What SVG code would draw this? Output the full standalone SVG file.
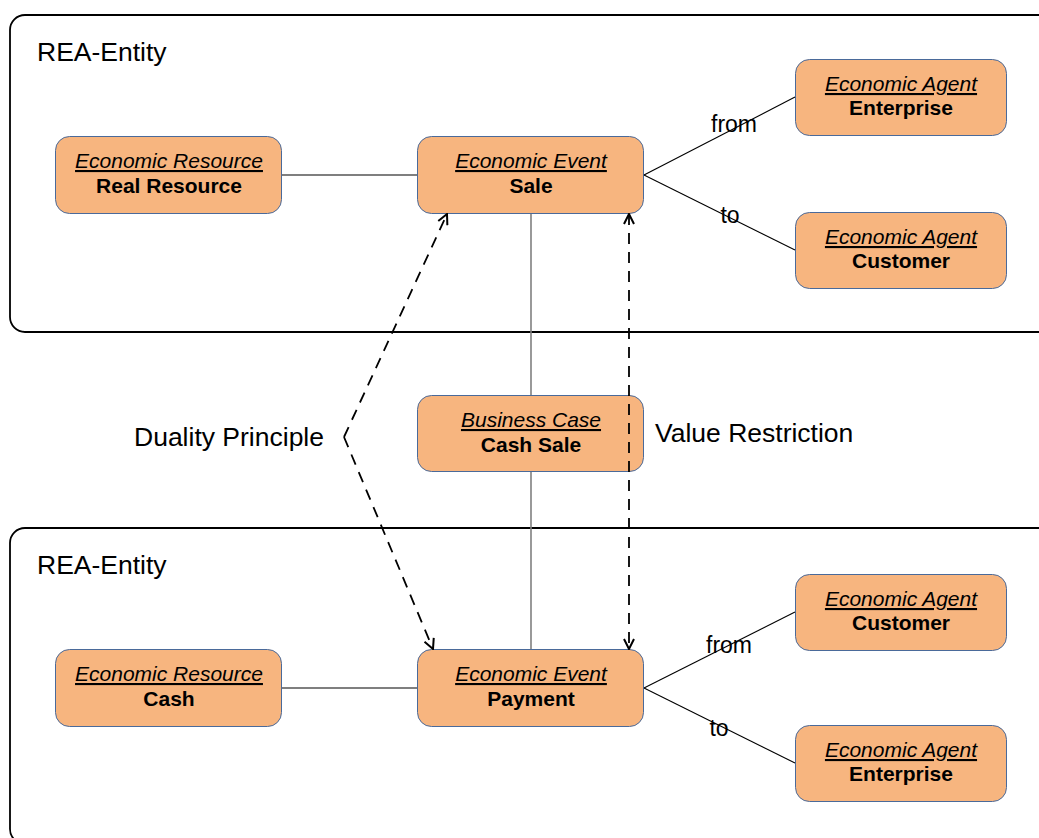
<svg xmlns="http://www.w3.org/2000/svg" width="1039" height="838" viewBox="0 0 1039 838">
  <defs>
    <marker id="open-arrow" viewBox="0 0 12 12" refX="11" refY="6" markerWidth="12" markerHeight="12" markerUnits="userSpaceOnUse" orient="auto-start-reverse">
      <path d="M1,1 L11,6 L1,11" fill="none" stroke="#000" stroke-width="2"/>
    </marker>
  </defs>
  <style>
    text { font-family: "Liberation Sans", Arial, sans-serif; fill: #000; }
    .container { fill: #fff; stroke: #000; stroke-width: 1.8; }
    .container-title { font-size: 26.5px; }
    .node rect { fill: #F7B57F; stroke: #4A6A9A; stroke-width: 1; }
    .kind { font-size: 21px; font-style: italic; text-decoration: underline; text-anchor: middle; }
    .name { font-size: 21px; font-weight: bold; text-anchor: middle; }
    .link { stroke: #000; stroke-width: 1.1; fill: none; }
    .spine { stroke: #808080; stroke-width: 1.6; fill: none; }
    .dashed { stroke: #000; stroke-width: 1.8; fill: none; stroke-dasharray: 11 8; }
    .edge-label { font-size: 23px; text-anchor: middle; }
    .note { font-size: 26.5px; }
  </style>

  <!-- REA entity containers -->
  <g id="rea-entity-top">
    <rect class="container" x="10" y="15" width="1060" height="317" rx="15" ry="15"/>
    <text class="container-title" x="37" y="61">REA-Entity</text>
  </g>
  <g id="rea-entity-bottom">
    <rect class="container" x="10" y="528" width="1060" height="316" rx="15" ry="15"/>
    <text class="container-title" x="37" y="574">REA-Entity</text>
  </g>

  <!-- Nodes -->
  <g id="resource-real" class="node">
    <rect x="55.500" y="136.500" width="226" height="77" rx="14" ry="14"/>
    <text class="kind" x="169" y="168">Economic Resource</text>
    <text class="name" x="169" y="193">Real Resource</text>
  </g>
  <g id="event-sale" class="node">
    <rect x="417.500" y="136.500" width="226" height="77" rx="14" ry="14"/>
    <text class="kind" x="531" y="168">Economic Event</text>
    <text class="name" x="531" y="193">Sale</text>
  </g>
  <g id="agent-enterprise-top" class="node">
    <rect x="795.500" y="59.500" width="211" height="76" rx="14" ry="14"/>
    <text class="kind" x="901" y="91">Economic Agent</text>
    <text class="name" x="901" y="115">Enterprise</text>
  </g>
  <g id="agent-customer-top" class="node">
    <rect x="795.500" y="212.500" width="211" height="76" rx="14" ry="14"/>
    <text class="kind" x="901" y="244">Economic Agent</text>
    <text class="name" x="901" y="268">Customer</text>
  </g>
  <g id="business-case" class="node">
    <rect x="417.500" y="395.500" width="226" height="76" rx="14" ry="14"/>
    <text class="kind" x="531" y="427">Business Case</text>
    <text class="name" x="531" y="452">Cash Sale</text>
  </g>
  <g id="resource-cash" class="node">
    <rect x="55.500" y="649.500" width="226" height="77" rx="14" ry="14"/>
    <text class="kind" x="169" y="681">Economic Resource</text>
    <text class="name" x="169" y="706">Cash</text>
  </g>
  <g id="event-payment" class="node">
    <rect x="417.500" y="649.500" width="226" height="77" rx="14" ry="14"/>
    <text class="kind" x="531" y="681">Economic Event</text>
    <text class="name" x="531" y="706">Payment</text>
  </g>
  <g id="agent-customer-bottom" class="node">
    <rect x="795.500" y="574.500" width="211" height="76" rx="14" ry="14"/>
    <text class="kind" x="901" y="606">Economic Agent</text>
    <text class="name" x="901" y="630">Customer</text>
  </g>
  <g id="agent-enterprise-bottom" class="node">
    <rect x="795.500" y="725.500" width="211" height="76" rx="14" ry="14"/>
    <text class="kind" x="901" y="757">Economic Agent</text>
    <text class="name" x="901" y="781">Enterprise</text>
  </g>

  <!-- Connectors -->
  <g id="connectors">
    <line class="link" x1="282" y1="175" x2="417" y2="175"/>
    <line class="link" x1="644" y1="175" x2="795" y2="97"/>
    <line class="link" x1="644" y1="175" x2="795" y2="250"/>
    <line class="spine" x1="531" y1="214" x2="531" y2="395"/>
    <line class="spine" x1="531" y1="472" x2="531" y2="649"/>

    <line class="link" x1="282" y1="688" x2="417" y2="688"/>
    <line class="link" x1="644" y1="688" x2="795" y2="612"/>
    <line class="link" x1="644" y1="688" x2="795" y2="763"/>

    <!-- duality principle -->
    <line class="dashed" x1="344" y1="437" x2="447" y2="214" marker-end="url(#open-arrow)"/>
    <line class="dashed" x1="344" y1="437" x2="433" y2="649" marker-end="url(#open-arrow)"/>
    <!-- value restriction -->
    <line class="dashed" x1="629" y1="214" x2="629" y2="649" marker-start="url(#open-arrow)" marker-end="url(#open-arrow)"/>

    <text class="edge-label" x="734" y="132">from</text>
    <text class="edge-label" x="730" y="223">to</text>
    <text class="edge-label" x="729" y="653">from</text>
    <text class="edge-label" x="719" y="736">to</text>
    <text class="note" x="134" y="446">Duality Principle</text>
    <text class="note" x="655" y="442">Value Restriction</text>
  </g>
</svg>
